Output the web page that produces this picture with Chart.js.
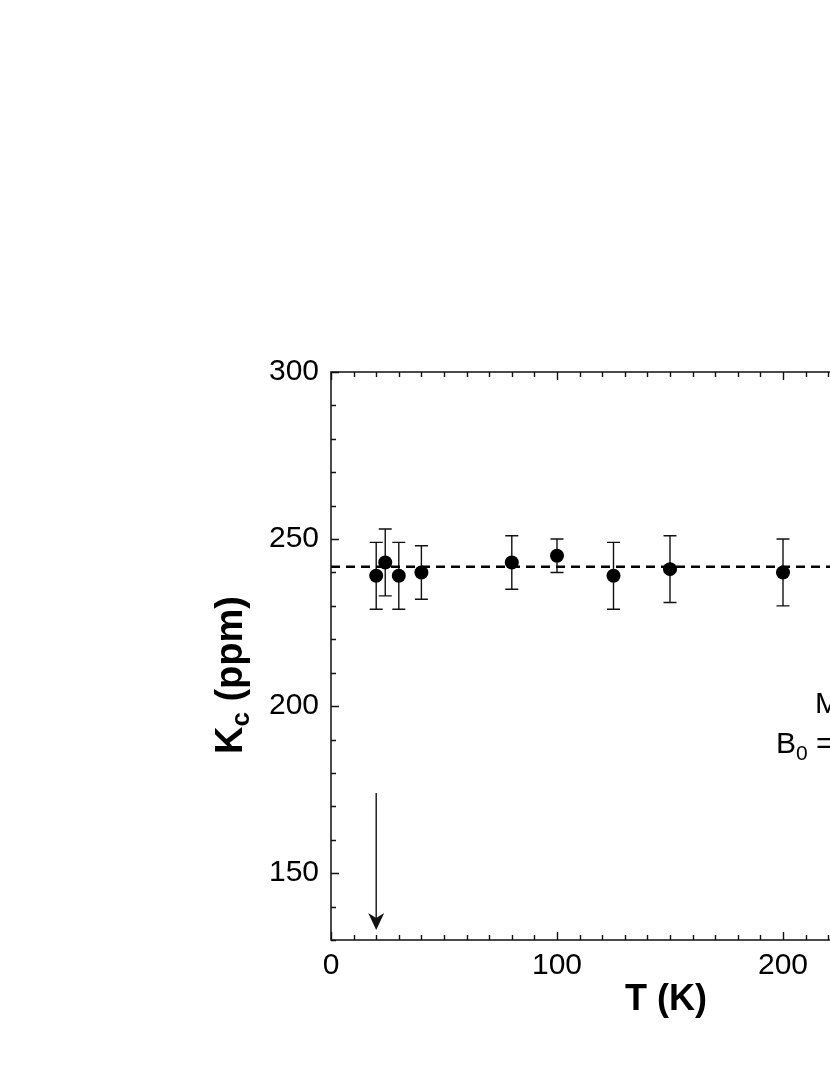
<!DOCTYPE html>
<html>
<head>
<meta charset="utf-8">
<script src="https://cdn.jsdelivr.net/npm/chart.js@4/dist/chart.umd.min.js"></script>
<style>
    html, body { margin: 0; padding: 0; background: #fff; overflow: hidden; }
    #wrap { width: 1080px; height: 1075px; }
</style>
</head>
<body>
<div id="wrap"><canvas id="chart" width="1080" height="1075"></canvas></div>
<script>
// ============================================
// DATA
// ============================================

const temps = [20, 24, 30, 40, 80, 100, 125, 150, 200];
const kc = [239, 243, 239, 240, 243, 245, 239, 241, 240];
const kcErr = [10, 10, 10, 8, 8, 5, 10, 10, 10];

const fitLevel = 241.7;
const fitRange = [0, 300];

const xTicks = [0, 100, 200, 300];
const yTicks = [150, 200, 250, 300];

// arrow marking the transition
const arrowT = 20;
const arrowFrom = 174;
const arrowTo = 133;

const FONT = '"Liberation Sans", Arial, Helvetica, sans-serif';
const INK = '#111';

// ============================================
// PLUGINS
// ============================================

// error bars under the markers
const errorBars = {
    id: 'errorBars',
    beforeDatasetsDraw(chart) {
        const ctx = chart.ctx;
        const xs = chart.scales.x, ys = chart.scales.y;
        ctx.save();
        ctx.strokeStyle = INK;
        ctx.lineWidth = 1.4;
        temps.forEach((t, i) => {
            const px = xs.getPixelForValue(t);
            const top = ys.getPixelForValue(kc[i] + kcErr[i]);
            const bot = ys.getPixelForValue(kc[i] - kcErr[i]);
            ctx.beginPath();
            ctx.moveTo(px, top); ctx.lineTo(px, bot);
            ctx.moveTo(px - 6.5, top); ctx.lineTo(px + 6.5, top);
            ctx.moveTo(px - 6.5, bot); ctx.lineTo(px + 6.5, bot);
            ctx.stroke();
        });
        ctx.restore();
    }
};

// frame, inward ticks on all sides, arrow, titles and note
const frame = {
    id: 'frame',
    afterDraw(chart) {
        const ctx = chart.ctx;
        const a = chart.chartArea;
        const xs = chart.scales.x, ys = chart.scales.y;
        ctx.save();
        ctx.strokeStyle = INK;
        ctx.lineWidth = 1.5;
        ctx.strokeRect(a.left, a.top, a.right - a.left, a.bottom - a.top);

        ctx.lineWidth = 1.4;
        ctx.beginPath();
        for (let v = fitRange[0]; v <= fitRange[1]; v += 10) {
            const px = Math.round(xs.getPixelForValue(v)) + 0.5;
            const len = xTicks.includes(v) ? 8 : 5;
            ctx.moveTo(px, a.bottom); ctx.lineTo(px, a.bottom - len);
            ctx.moveTo(px, a.top); ctx.lineTo(px, a.top + len);
        }
        for (let v = ys.min; v <= ys.max; v += 10) {
            const py = Math.round(ys.getPixelForValue(v)) + 0.5;
            const len = yTicks.includes(v) ? 8 : 5;
            ctx.moveTo(a.left, py); ctx.lineTo(a.left + len, py);
            ctx.moveTo(a.right, py); ctx.lineTo(a.right - len, py);
        }
        ctx.stroke();

        // arrow
        const ax = xs.getPixelForValue(arrowT);
        const ay0 = ys.getPixelForValue(arrowFrom);
        const ay1 = ys.getPixelForValue(arrowTo);
        ctx.lineWidth = 1.4;
        ctx.beginPath();
        ctx.moveTo(ax, ay0); ctx.lineTo(ax, ay1 - 8);
        ctx.stroke();
        ctx.fillStyle = INK;
        ctx.beginPath();
        ctx.moveTo(ax, ay1);
        ctx.lineTo(ax - 8, ay1 - 17);
        ctx.lineTo(ax, ay1 - 12);
        ctx.lineTo(ax + 8, ay1 - 17);
        ctx.closePath();
        ctx.fill();

        // x title
        ctx.fillStyle = '#000';
        ctx.font = 'bold 36px ' + FONT;
        ctx.textAlign = 'center';
        ctx.textBaseline = 'alphabetic';
        ctx.fillText('T (K)', 666, 1010);

        // y title with subscript
        ctx.save();
        ctx.translate(242, 675);
        ctx.rotate(-Math.PI / 2);
        ctx.textAlign = 'left';
        const big = 'bold 38px ' + FONT, small = 'bold 26px ' + FONT;
        ctx.font = big; const wK = ctx.measureText('K').width;
        const wRest = ctx.measureText(' (ppm)').width;
        ctx.font = small; const wc = ctx.measureText('c').width;
        let x0 = -(wK + wc + wRest) / 2;
        ctx.font = big; ctx.fillText('K', x0, 0);
        ctx.font = small; ctx.fillText('c', x0 + wK, 7);
        ctx.font = big; ctx.fillText(' (ppm)', x0 + wK + wc, 0);
        ctx.restore();

        // sample / field note (cut off at the right edge)
        ctx.textAlign = 'left';
        ctx.font = '30px ' + FONT;
        ctx.fillText('M', 815, 713);
        ctx.fillText('B', 776, 753);
        const wB = ctx.measureText('B').width;
        ctx.font = '21px ' + FONT;
        ctx.fillText('0', 776 + wB, 760);
        const w0 = ctx.measureText('0').width;
        ctx.font = '30px ' + FONT;
        ctx.fillText(' =', 776 + wB + w0, 753);
        ctx.restore();
    }
};

// ============================================
// CHART
// ============================================

new Chart(document.getElementById('chart'), {
    type: 'scatter',
    data: {
        datasets: [{
            data: temps.map((t, i) => ({ x: t, y: kc[i] })),
            pointRadius: 7,
            pointBackgroundColor: '#000',
            pointBorderWidth: 0,
            showLine: false
        }, {
            type: 'line',
            data: fitRange.map(t => ({ x: t, y: fitLevel })),
            borderColor: '#000',
            borderWidth: 2.5,
            borderDash: [9, 6],
            pointRadius: 0
        }]
    },
    options: {
        responsive: false,
        animation: false,
        events: [],
        layout: { padding: { left: 0, top: 372, right: 71, bottom: 0 } },
        plugins: { legend: { display: false }, tooltip: { enabled: false } },
        scales: {
            x: {
                type: 'linear',
                min: 0,
                max: 300,
                afterBuildTicks: s => { s.ticks = xTicks.map(v => ({ value: v })); },
                afterFit: s => { s.height = 135; },
                grid: { display: false },
                border: { display: false },
                ticks: { color: '#000', padding: 0, font: { family: FONT, size: 30 } }
            },
            y: {
                min: 130,
                max: 300,
                afterBuildTicks: s => { s.ticks = yTicks.map(v => ({ value: v })); },
                afterFit: s => { s.width = 331; },
                grid: { display: false },
                border: { display: false },
                ticks: { color: '#000', padding: 4, font: { family: FONT, size: 30 } }
            }
        }
    },
    plugins: [errorBars, frame]
});
</script>
</body>
</html>
